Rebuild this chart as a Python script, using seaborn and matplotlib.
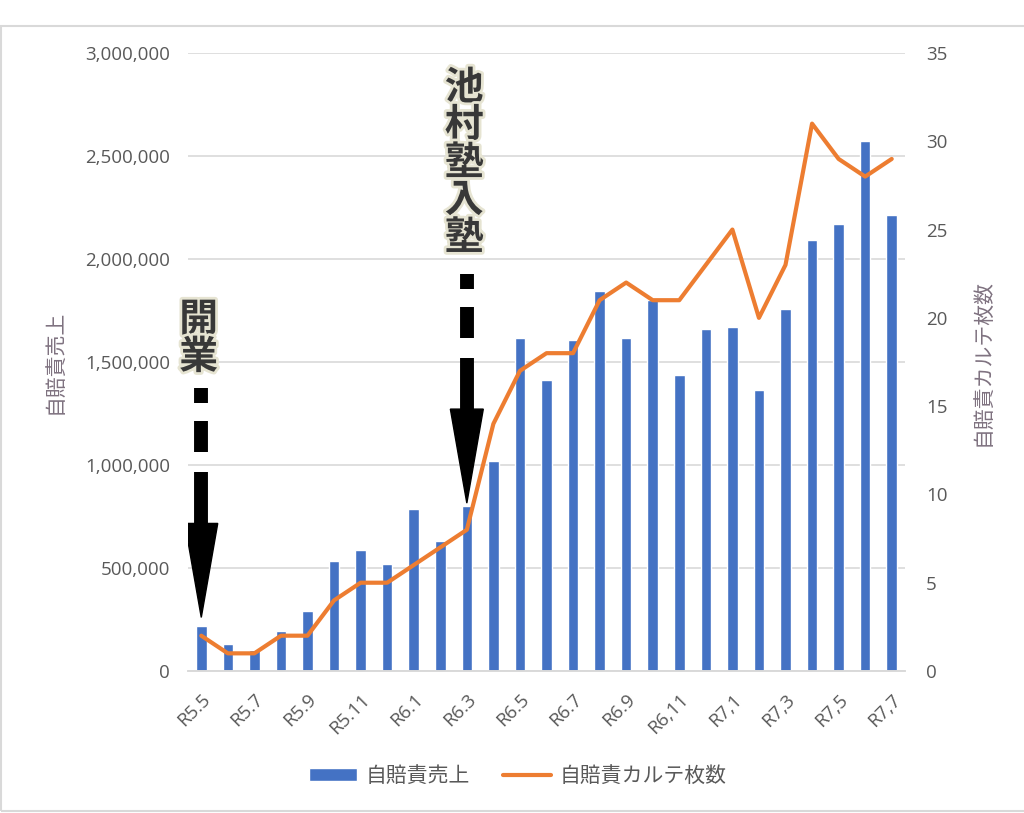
"""
自賠責売上 / 自賠責カルテ枚数 (R5.5 - R7.7)
"""
import matplotlib
matplotlib.use("Agg")
import matplotlib.pyplot as plt
import matplotlib.patheffects as pe
from matplotlib.patches import Rectangle
from matplotlib.ticker import FuncFormatter, MultipleLocator
import pandas as pd
import seaborn as sns

# === DATA ===
MONTHS = [
    "R5.5", "R5.6", "R5.7", "R5.8", "R5.9", "R5.10", "R5.11", "R5.12",
    "R6.1", "R6.2", "R6.3", "R6.4", "R6.5", "R6.6", "R6.7", "R6.8",
    "R6.9", "R6,10", "R6,11", "R6,12", "R7,1", "R7,2", "R7,3", "R7,4",
    "R7,5", "R7,6", "R7,7",
]
SALES = [
    220000, 130000, 100000, 195000, 293000, 534000, 587000, 518000,
    785000, 632000, 802000, 1019000, 1617000, 1411000, 1607000, 1843000,
    1617000, 1801000, 1437000, 1661000, 1671000, 1366000, 1758000, 2090000,
    2171000, 2573000, 2215000,
]
KARTE = [
    2, 1, 1, 2, 2, 4, 5, 5,
    6, 7, 8, 14, 17, 18, 18, 21,
    22, 21, 21, 23, 25, 20, 23, 31,
    29, 28, 29,
]

# events: (category, arrow tip value on left axis, top of label on left axis, label)
EVENTS = [
    ("R5.5", 260000, 1800000, "開業"),
    ("R6.3", 815000, 2925000, "池村塾入塾"),
]

BAR_COLOR = "#4472C4"
LINE_COLOR = "#ED7D31"
TEXT_COLOR = "#595959"
GRID_COLOR = "#D9D9D9"


def draw_event(ax, x, tip, top, label, px):
    """Dashed arrow with a bold vertical label above it."""
    head_top = tip + 94 * px
    shaft_top = head_top + 51 * px
    d2_bot = shaft_top + 20 * px
    d2_top = d2_bot + 31 * px
    d1_bot = d2_top + 18 * px
    d1_top = d1_bot + 15 * px
    for lo, hi in [(head_top - 2 * px, shaft_top), (d2_bot, d2_top), (d1_bot, d1_top)]:
        ax.plot([x, x], [lo, hi], color="black", lw=10, solid_capstyle="butt", zorder=5)
    ax.fill([x - 0.62, x + 0.62, x], [head_top, head_top, tip], color="black", zorder=5)
    ax.text(x - 0.1, top, "\n".join(label), ha="center", va="top", fontsize=28,
            fontweight="bold", color="#383838", linespacing=0.95, zorder=6,
            family=["Noto Sans CJK JP", "DejaVu Sans"],
            path_effects=[pe.withStroke(linewidth=4, foreground="#E6E4D2")])


def main():
    sns.set_theme(style="white")
    plt.rcParams["font.family"] = ["Open Sans", "Noto Sans CJK JP", "DejaVu Sans"]

    df = pd.DataFrame({"month": MONTHS, "sales": SALES, "karte": KARTE})

    fig = plt.figure(figsize=(10.24, 8.13), dpi=100)
    ax = fig.add_axes([188 / 1024, 1 - 671 / 813, (905 - 188) / 1024, (671 - 53) / 813])
    ax2 = ax.twinx()

    sns.barplot(data=df, x="month", y="sales", color=BAR_COLOR, width=0.4,
                saturation=1, ax=ax, label="自賠責売上", zorder=2)
    sns.lineplot(data=df, x="month", y="karte", color=LINE_COLOR, lw=3.0, sort=False,
                 ax=ax2, label="自賠責カルテ枚数")

    ax.set_xlim(-0.5, len(MONTHS) - 0.5)
    ax.set_ylim(0, 3000000)
    ax.yaxis.set_major_locator(MultipleLocator(500000))
    ax.yaxis.set_major_formatter(FuncFormatter(lambda v, _: f"{int(v):,}"))
    ax2.set_ylim(0, 35)
    ax2.yaxis.set_major_locator(MultipleLocator(5))

    ax.grid(axis="y", color=GRID_COLOR, lw=1.2)
    ax.set_axisbelow(True)
    for a in (ax, ax2):
        for s in ("top", "left", "right"):
            a.spines[s].set_visible(False)
        a.spines["bottom"].set_color(GRID_COLOR)
        a.spines["bottom"].set_linewidth(1.2)
        a.tick_params(length=0, colors=TEXT_COLOR, labelsize=13.5)

    ax.tick_params(axis="y", pad=13)
    ax2.tick_params(axis="y", pad=15)

    ax.set_xticks(range(0, len(MONTHS), 2))
    ax.set_xticklabels(MONTHS[::2], rotation=45, ha="right", rotation_mode="anchor")
    ax.tick_params(axis="x", pad=14)

    ax.set_xlabel("")
    ax.set_ylabel("自賠責売上", fontsize=15, color="#7F7280", labelpad=14)
    ax2.set_ylabel("自賠責カルテ枚数", fontsize=15, color="#7F7280", labelpad=18)

    px = 500000 / 103
    for month, tip, top, label in EVENTS:
        draw_event(ax, MONTHS.index(month), tip, top, label, px)

    h1, l1 = ax.get_legend_handles_labels()
    h2, l2 = ax2.get_legend_handles_labels()
    if ax2.get_legend():
        ax2.get_legend().remove()
    if ax.get_legend():
        ax.get_legend().remove()
    fig.legend(h1 + h2, l1 + l2, loc="center", bbox_to_anchor=(518 / 1024, 1 - 776 / 813),
               ncol=2, frameon=False, fontsize=15, labelcolor=TEXT_COLOR,
               handlelength=2.3, handleheight=0.6, handletextpad=0.4, columnspacing=1.6)

    # chart frame
    fig.patches.append(Rectangle((0.0005, 0.002), 1.2, 1 - 26 / 813 - 0.002,
                                 transform=fig.transFigure, fill=False,
                                 edgecolor="#D9D9D9", lw=1.5))

    fig.savefig("out.png", dpi=100)
    plt.close(fig)


if __name__ == "__main__":
    main()
